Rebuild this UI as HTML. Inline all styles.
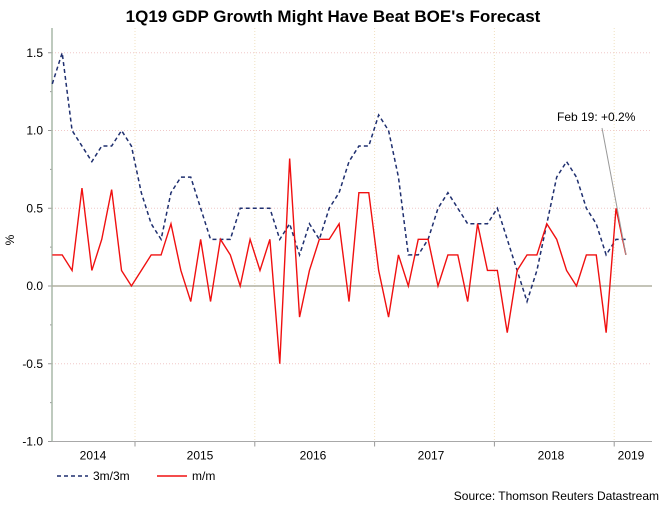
<!DOCTYPE html>
<html><head><meta charset="utf-8">
<style>
body{margin:0;background:#fff;}
svg{display:block;font-family:"Liberation Sans",Arial,sans-serif;}
</style></head>
<body>
<svg id="chart" width="667" height="505" viewBox="0 0 667 505" xmlns="http://www.w3.org/2000/svg">
<text x="333" y="22" text-anchor="middle" font-size="17" font-weight="bold" fill="#000">1Q19 GDP Growth Might Have Beat BOE's Forecast</text>
<text x="14" y="240" font-size="12" text-anchor="middle" transform="rotate(-90 14 240)">%</text>
<g id="grid"></g>
<g id="axes"></g>
<g id="series"></g>
<line x1="602" y1="128" x2="626" y2="255" stroke="#999" stroke-width="1"/>
<text x="557" y="121" font-size="12" fill="#000">Feb 19: +0.2%</text>
<g>
<line x1="57" y1="476" x2="88" y2="476" stroke="#1f2f6f" stroke-width="1.5" stroke-dasharray="4,3"/>
<text x="93" y="480" font-size="12">3m/3m</text>
<line x1="157" y1="476" x2="187" y2="476" stroke="#f01010" stroke-width="1.5"/>
<text x="192" y="480" font-size="12">m/m</text>
</g>
<text x="659" y="500" text-anchor="end" font-size="12">Source: Thomson Reuters Datastream</text>
</svg>
<script>
const yTicks = [1.5, 1.0, 0.5, 0.0, -0.5, -1.0];
const yearLabels = ["2014","2015","2016","2017","2018","2019"];
const yearLabelX = [93, 200, 313, 431, 551, 631];
const threeMonth = [1.3,1.5,1.0,0.9,0.8,0.9,0.9,1.0,0.9,0.6,0.4,0.3,0.6,0.7,0.7,0.5,0.3,0.3,0.3,0.5,0.5,0.5,0.5,0.3,0.4,0.2,0.4,0.3,0.5,0.6,0.8,0.9,0.9,1.1,1.0,0.7,0.2,0.2,0.3,0.5,0.6,0.5,0.4,0.4,0.4,0.5,0.3,0.1,-0.1,0.1,0.4,0.7,0.8,0.7,0.5,0.4,0.2,0.3,0.3];
const monthly = [0.2,0.2,0.1,0.63,0.1,0.3,0.62,0.1,0.0,0.1,0.2,0.2,0.4,0.1,-0.1,0.3,-0.1,0.3,0.2,0.0,0.3,0.1,0.3,-0.5,0.82,-0.2,0.1,0.3,0.3,0.4,-0.1,0.6,0.6,0.1,-0.2,0.2,0.0,0.3,0.3,0.0,0.2,0.2,-0.1,0.4,0.1,0.1,-0.3,0.1,0.2,0.2,0.4,0.3,0.1,0.0,0.2,0.2,-0.3,0.5,0.2];

const NS = "http://www.w3.org/2000/svg";
const X0 = 52.3, DX = 9.89;
function xScale(i){ return X0 + i*DX; }
function yScale(v){ return 286 - v*155.5; }
function yearX(k){ return 135 + (k-1)*119.8; }
function mk(tag, attrs, parent){ const e=document.createElementNS(NS,tag); for(const k in attrs) e.setAttribute(k,attrs[k]); parent.appendChild(e); return e; }

const gridG=document.getElementById('grid'), axesG=document.getElementById('axes'), seriesG=document.getElementById('series');
const plotLeft=52, plotRight=652, plotBottom=yScale(-1.0), plotTop=28;

yTicks.forEach(v=>{
  const y=yScale(v);
  if(v!==0 && v!==-1.0){
    const g=mk('line',{x1:plotLeft,y1:y,x2:plotRight,y2:y,stroke:'#f0c8c8','stroke-width':1,'stroke-dasharray':'1,2'},gridG);
    
    
  }
  const t=mk('line',{x1:plotLeft-4,y1:y,x2:plotLeft,y2:y,stroke:'#999'},axesG);
  
  
  const l=mk('text',{x:43,y:y+4,'text-anchor':'end','font-size':12},axesG);
  l.textContent=v.toFixed(1);
  
  
});
for(let v=-0.75; v<1.6; v+=0.5){
  const y=yScale(v);
  const t=mk('line',{x1:plotLeft-2,y1:y,x2:plotLeft,y2:y,stroke:'#999'},axesG);
  
  
}
yearLabels.forEach((lab,k)=>{
  if(k>0){
    const x=yearX(k);
    const g=mk('line',{x1:x,y1:plotTop,x2:x,y2:plotBottom,stroke:'#f0e0c0','stroke-width':1,'stroke-dasharray':'1,2'},gridG);
    
    
    const t=mk('line',{x1:x,y1:plotBottom,x2:x,y2:plotBottom+5,stroke:'#999'},axesG);
    
    
  }
  const l=mk('text',{x:yearLabelX[k],y:plotBottom+18,'text-anchor':'middle','font-size':12},axesG);
  l.textContent=lab;
  
  
});
const ax1=mk('line',{x1:plotLeft,y1:plotTop,x2:plotLeft,y2:plotBottom,stroke:'#a8b8a8','stroke-width':1.5},axesG);


const ax2=mk('line',{x1:plotLeft,y1:plotBottom,x2:plotRight,y2:plotBottom,stroke:'#a8a8a8','stroke-width':1},axesG);


const zl=mk('line',{x1:plotLeft,y1:yScale(0),x2:plotRight,y2:yScale(0),stroke:'#b0b0a0','stroke-width':1.5},axesG);



const p1=mk('polyline',{points:threeMonth.map((v,i)=>xScale(i)+','+yScale(v)).join(' '),fill:'none',stroke:'#1f2f6f','stroke-width':1.5,'stroke-dasharray':'4,3'},seriesG);


const p2=mk('polyline',{points:monthly.map((v,i)=>xScale(i)+','+yScale(v)).join(' '),fill:'none',stroke:'#f01010','stroke-width':1.4},seriesG);


</script>
</body></html>
